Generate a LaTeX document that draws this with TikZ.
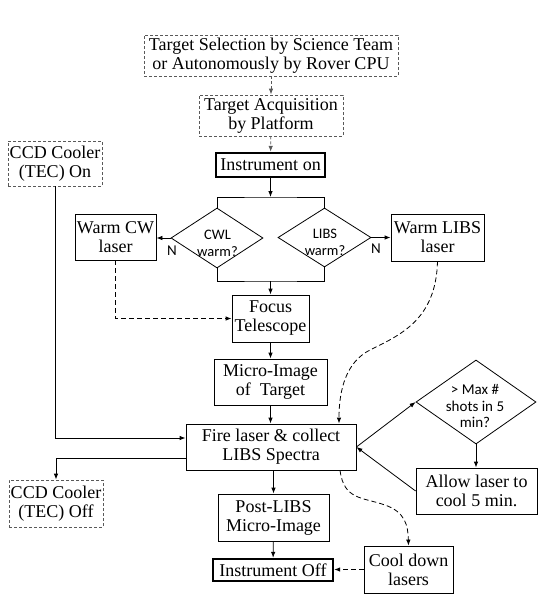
\documentclass[tikz,border=0pt]{standalone}
\usepackage{fontspec}
\setmainfont{Liberation Serif}
\newfontfamily\serifbox{Liberation Serif}
\newfontfamily\dsans{Carlito}
\usetikzlibrary{shapes.geometric,arrows.meta,calc}
\begin{document}
\begin{tikzpicture}[x=1pt,y=-1pt,
 box/.style={draw, line width=0.8pt, inner sep=0pt, align=center, font=\serifbox\fontsize{18}{19}\selectfont},
 dbox/.style={box, draw=black!65, dash pattern=on 3pt off 2pt},
 tbox/.style={box, line width=2.4pt},
 dia/.style={draw, diamond, line width=0.8pt, inner sep=0pt},
 dtext/.style={font=\dsans\fontsize{14.5}{17.5}\selectfont, align=center, inner sep=0pt},
 mtext/.style={font=\dsans\fontsize{15}{16.5}\selectfont, align=center, inner sep=0pt},
 ntext/.style={font=\dsans\fontsize{15}{16}\selectfont, inner sep=0pt},
 arr/.style={-{Latex[length=6pt,width=4.5pt]}, line width=0.8pt},
 darr/.style={arr, dash pattern=on 5pt off 3pt},
 garr/.style={arr, draw=black!65, dash pattern=on 3pt off 2pt},
]
\useasboundingbox (0,0) rectangle (541,600);

\node[dbox, minimum width=254, minimum height=41] (sel) at (271,55.5) {Target Selection by Science Team\\or Autonomously by Rover CPU};
\node[dbox, minimum width=144, minimum height=41] (acq) at (271,115.5) {Target Acquisition\\by Platform};
\node[tbox, minimum width=109, minimum height=24] (on) at (270.5,165) {Instrument on};
\node[dbox, minimum width=94, minimum height=45] (ccdon) at (55,163.5) {CCD Cooler\\(TEC) On};

\node[dia, minimum width=92, minimum height=60] (cwl) at (217,238) {};
\node[dtext] (cwlt) at (217.5,243.5) {CWL\\warm?};
\node[dia, minimum width=93, minimum height=59] (libs) at (324.5,237.5) {};
\node[dtext] (libst) at (325,242.5) {LIBS\\warm?};

\node[box, minimum width=81, minimum height=46] (warmcw) at (115.5,237) {Warm CW\\laser};
\node[box, minimum width=93, minimum height=47] (warmlibs) at (437.5,237.5) {Warm LIBS\\laser};
\node[ntext] (n1) at (172,251) {N};
\node[ntext] (n2) at (376,248.5) {N};

\node[box, minimum width=77, minimum height=47] (focus) at (270.5,318.5) {Focus\\Telescope};
\node[box, minimum width=113, minimum height=46] (micro) at (270.5,382) {Micro-Image\\of~ Target};
\node[box, minimum width=170, minimum height=46] (fire) at (271,447) {Fire laser \& collect\\LIBS Spectra};
\node[dia, minimum width=120, minimum height=84] (maxd) at (476,402) {};
\node[mtext] (maxt) at (475,406) {> Max \#\\shots in 5\\min?};
\node[box, minimum width=121, minimum height=46] (allow) at (476.5,491) {Allow laser to\\cool 5 min.};
\node[dbox, minimum width=94, minimum height=47] (ccdoff) at (56,503.5) {CCD Cooler\\(TEC) Off};
\node[box, minimum width=111, minimum height=47] (post) at (273.5,517.5) {Post-LIBS\\Micro-Image};
\node[tbox, minimum width=120, minimum height=22] (off) at (273,570) {Instrument Off};
\node[box, minimum width=89, minimum height=47] (cool) at (408.5,569.5) {Cool down\\lasers};

\coordinate (topbar) at (270.5,197);
\coordinate (botbar) at (270.5,281);

% connectors
\draw[garr] (sel) -- (acq);
\draw[garr] (acq) -- (on);
\draw[arr] (on) -- (topbar);
\draw[line width=0.8pt] (cwl.north) |- (topbar) -| (libs.north);
\draw[line width=0.8pt] (cwl.south) |- (botbar) -| (libs.south);
\draw[arr] (botbar) -- (focus);
\draw[arr] (cwl.west) -- (cwl.west -| warmcw.east);
\draw[arr] (libs.east) -- (libs.east -| warmlibs.west);
\draw[darr] (warmcw.south) |- (focus.west);
\draw[arr] (focus) -- (micro);
\draw[arr] (micro) -- (micro.south |- fire.north);
\draw[arr] (ccdon.south) |- ([yshift=9pt]fire.west);
\draw[arr] ([yshift=-11pt]fire.west) -| (ccdoff.north);
\draw[arr] (fire.south -| post.north) -- (post.north);
\draw[arr] (post) -- (off);
\draw[arr] (fire.east) -- (maxd.west);
\draw[arr] (maxd.south) -- (maxd.south |- allow.north);
\draw[arr] (allow.west) -- (fire.east);
\draw[darr] (cool.west) -- (cool.west -| off.east);
\draw[darr] (warmlibs.south) .. controls (436,320) and (400,335) .. (370,350)
   .. controls (346,362) and (339,390) .. ([xshift=68pt]fire.north);
\draw[darr] ([xshift=69pt]fire.south) .. controls (344,500) and (362,497) .. (385,505)
   .. controls (405,512) and (408,525) .. (cool.north);
\end{tikzpicture}
\end{document}
